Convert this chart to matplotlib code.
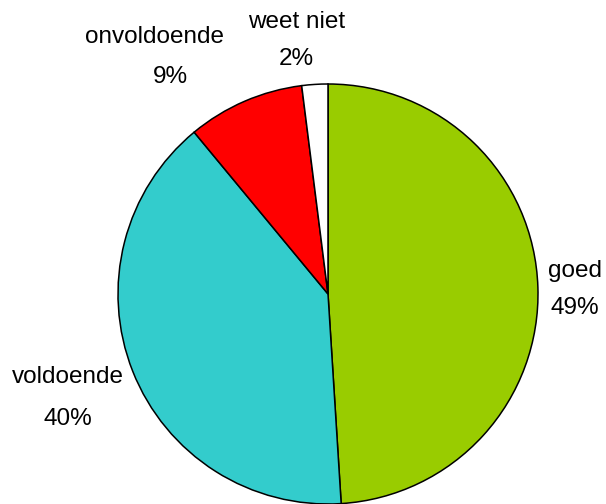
import matplotlib.pyplot as plt

categories = ["goed", "voldoende", "onvoldoende", "weet niet"]
percentages = [49, 40, 9, 2]
colors = ["#99CC00", "#33CCCC", "#FF0000", "#FFFFFF"]

# baseline anchors in pixels from the top-left: (name x, name y, pct x, pct y)
label_pos = [
    (575, 277, 575, 314),
    (67.5, 383, 67.5, 425),
    (155, 43, 170.5, 83),
    (296.5, 28, 296.5, 65),
]

W, H = 606, 504
fig = plt.figure(figsize=(W / 100, H / 100), dpi=100)
ax = fig.add_axes([0, 0, 1, 1])

ax.pie(percentages, colors=colors, startangle=90, counterclock=False,
       center=(328, H - 294), radius=210,
       wedgeprops=dict(edgecolor="black", linewidth=1.1))
ax.set_xlim(0, W)
ax.set_ylim(0, H)
ax.set_aspect("equal")
ax.axis("off")

font = dict(fontsize=17.5, family="Liberation Sans", ha="center", va="baseline")
for name, pct, (nx, ny, px, py) in zip(categories, percentages, label_pos):
    ax.text(nx, H - ny, name, **font)
    ax.text(px, H - py, f"{pct}%", **font)

fig.savefig("out.png", dpi=100)
